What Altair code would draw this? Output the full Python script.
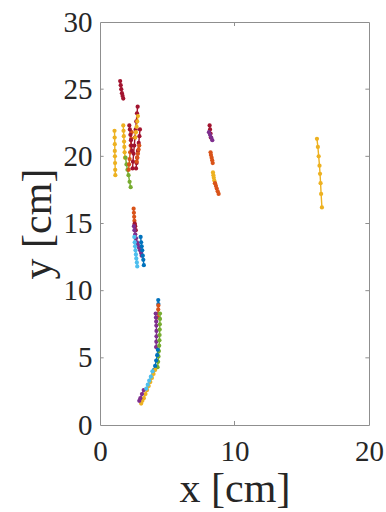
import altair as alt
import pandas as pd

# MATLAB default colour order
BLUE, ORANGE, YELLOW, PURPLE, GREEN, LIGHTBLUE, DARKRED = (
    "#0072BD", "#D95319", "#EDB120", "#7E2F8E", "#77AC30", "#4DBEEE", "#A2142F")

# Tracks: colour, x positions [cm], y positions [cm]
track_colors = [
    DARKRED, YELLOW, YELLOW, GREEN, ORANGE, DARKRED, DARKRED, DARKRED, YELLOW, ORANGE,
    ORANGE, DARKRED, PURPLE, LIGHTBLUE, BLUE,
    BLUE, ORANGE, PURPLE, GREEN, BLUE, YELLOW, PURPLE, LIGHTBLUE,
    DARKRED, PURPLE, ORANGE, YELLOW, ORANGE,
    YELLOW,
]
track_x = [
    [1.50, 1.54, 1.58, 1.63, 1.68, 1.73],
    [1.08, 1.09, 1.10, 1.10, 1.11, 1.12, 1.13, 1.14],
    [1.73, 1.75, 1.77, 1.79, 1.81, 1.83, 1.86],
    [1.90, 1.97, 2.04, 2.12, 2.20, 2.28],
    [2.36, 2.32, 2.28, 2.24, 2.20, 2.16, 2.13],
    [2.80, 2.75, 2.70, 2.65, 2.60, 2.55, 2.50, 2.45, 2.42],
    [2.18, 2.22, 2.26, 2.30, 2.34, 2.38],
    [2.97, 2.93, 2.88, 2.82, 2.77, 2.72, 2.68],
    [2.82, 2.77, 2.72, 2.67, 2.62],
    [2.92, 2.87, 2.82, 2.77, 2.73],
    [2.50, 2.52, 2.54, 2.56, 2.58],
    [2.58, 2.62, 2.66],
    [2.52, 2.56, 2.62, 2.68, 2.75, 2.82, 2.90, 2.98, 3.05, 3.10],
    [2.55, 2.58, 2.61, 2.64, 2.67, 2.70, 2.74, 2.77],
    [3.02, 3.06, 3.10, 3.14, 3.18, 3.22, 3.26],
    [4.33, 4.34],
    [4.34, 4.33, 4.32, 4.31],
    [4.14, 4.16, 4.18, 4.19, 4.20, 4.20, 4.19, 4.17],
    [4.46, 4.46, 4.45, 4.44, 4.43, 4.42, 4.40, 4.38, 4.35, 4.32, 4.28],
    [4.30, 4.25, 4.18, 4.10, 4.02],
    [4.10, 3.98, 3.86, 3.74, 3.62, 3.50, 3.38, 3.26, 3.15, 3.06],
    [3.25, 3.12, 3.00, 2.92],
    [3.90, 3.78, 3.66, 3.55, 3.44],
    [8.15, 8.18, 8.22, 8.24],
    [8.10, 8.18, 8.27, 8.35],
    [8.22, 8.25, 8.30, 8.34, 8.38],
    [8.40, 8.43, 8.46, 8.50, 8.55],
    [8.55, 8.62, 8.68, 8.75, 8.82],
    [16.13, 16.20, 16.26, 16.32, 16.36, 16.40, 16.44, 16.50],
]
track_y = [
    [25.6, 25.3, 25.0, 24.7, 24.5, 24.3],
    [21.9, 21.4, 20.9, 20.4, 20.0, 19.5, 19.0, 18.6],
    [22.3, 21.9, 21.5, 21.1, 20.7, 20.3, 19.9],
    [19.9, 19.4, 19.0, 18.6, 18.1, 17.7],
    [21.8, 21.3, 20.8, 20.3, 19.8, 19.4, 19.0],
    [23.7, 23.2, 22.6, 22.0, 21.4, 20.8, 20.2, 19.6, 19.1],
    [22.3, 22.0, 21.6, 21.2, 20.8, 20.4],
    [22.0, 21.5, 21.0, 20.4, 19.9, 19.5, 19.1],
    [23.0, 22.6, 22.2, 21.8, 21.4],
    [20.8, 20.5, 20.2, 19.9, 19.6],
    [16.1, 15.8, 15.5, 15.2, 14.9],
    [15.0, 14.8, 14.5],
    [14.8, 14.5, 14.2, 13.9, 13.6, 13.4, 13.2, 13.0, 12.8, 12.6],
    [14.0, 13.6, 13.3, 13.0, 12.7, 12.4, 12.1, 11.8],
    [14.0, 13.6, 13.3, 13.0, 12.6, 12.3, 11.9],
    [9.3, 9.0],
    [8.9, 8.6, 8.3, 8.0],
    [8.3, 8.0, 7.7, 7.4, 7.0, 6.6, 6.2, 5.8],
    [8.3, 7.9, 7.5, 7.1, 6.7, 6.3, 5.9, 5.5, 5.1, 4.7, 4.3],
    [5.6, 5.2, 4.8, 4.4, 4.1],
    [4.1, 3.8, 3.5, 3.2, 2.9, 2.6, 2.3, 2.0, 1.8, 1.6],
    [2.6, 2.3, 2.0, 1.8],
    [4.0, 3.6, 3.3, 3.0, 2.7],
    [22.3, 22.0, 21.7, 21.4],
    [21.8, 21.6, 21.4, 21.2],
    [20.3, 20.1, 19.9, 19.7, 19.5],
    [18.8, 18.6, 18.4, 18.2, 18.0],
    [18.0, 17.8, 17.6, 17.4, 17.2],
    [21.3, 20.7, 20.0, 19.3, 18.7, 18.0, 17.2, 16.2],
]

x_ticks = [0, 10, 20]
y_ticks = [0, 5, 10, 15, 20, 25, 30]
x_domain = [0, 20]
y_domain = [0, 30]

rows = []
for k, (c, xs, ys) in enumerate(zip(track_colors, track_x, track_y)):
    for i, (xv, yv) in enumerate(zip(xs, ys)):
        rows.append({"track": k, "seq": i, "x": xv, "y": yv, "color": c})
df = pd.DataFrame(rows)

FONT = "Liberation Serif"
TEXT = "#262626"

x_enc = alt.X("x:Q", scale=alt.Scale(domain=x_domain, nice=False, zero=False),
              axis=alt.Axis(values=x_ticks, title="x [cm]", titleY=76,
                            titleBaseline="alphabetic", labelPadding=12,
                            labelFlush=False))
y_enc = alt.Y("y:Q", scale=alt.Scale(domain=y_domain, nice=False, zero=False),
              axis=alt.Axis(values=y_ticks, title="y [cm]", titleX=-50,
                            titleBaseline="alphabetic", labelPadding=8,
                            labelFlush=False))

lines = alt.Chart(df).mark_line(strokeWidth=1.4).encode(
    x=x_enc, y=y_enc,
    detail="track:N",
    order="seq:Q",
    color=alt.Color("color:N", scale=None),
)
points = alt.Chart(df).mark_circle(size=18, opacity=1).encode(
    x="x:Q", y="y:Q",
    color=alt.Color("color:N", scale=None),
)

# inward tick marks on all four sides of the box
tick_len_x = 0.3
tick_len_y = 0.27
xt = pd.DataFrame({"v": x_ticks[1:-1]})
yt = pd.DataFrame({"v": y_ticks[1:-1]})
tick_color = "#8f8f8f"
xb = alt.Chart(xt).mark_rule(color=tick_color, strokeWidth=1).encode(
    x="v:Q", y=alt.datum(y_domain[0]), y2=alt.datum(y_domain[0] + tick_len_x))
xtop = alt.Chart(xt).mark_rule(color=tick_color, strokeWidth=1).encode(
    x="v:Q", y=alt.datum(y_domain[1]), y2=alt.datum(y_domain[1] - tick_len_x))
yl = alt.Chart(yt).mark_rule(color=tick_color, strokeWidth=1).encode(
    y="v:Q", x=alt.datum(x_domain[0]), x2=alt.datum(x_domain[0] + tick_len_y))
yr = alt.Chart(yt).mark_rule(color=tick_color, strokeWidth=1).encode(
    y="v:Q", x=alt.datum(x_domain[1]), x2=alt.datum(x_domain[1] - tick_len_y))

chart = alt.layer(lines, points, xb, xtop, yl, yr).properties(
    width=269, height=403,
    padding={"left": 100, "top": 22, "right": 17, "bottom": 87},
    autosize=alt.AutoSizeParams(type="none"),
).configure_view(
    stroke=tick_color, strokeWidth=1,
).configure_axis(
    domain=False, ticks=False, grid=False,
    labelFont=FONT, labelFontSize=29, labelColor=TEXT,
    titleFont=FONT, titleFontSize=42, titleColor=TEXT, titleFontWeight="normal",
)

chart.save("out.html", embed_options={"renderer": "svg", "actions": False})
